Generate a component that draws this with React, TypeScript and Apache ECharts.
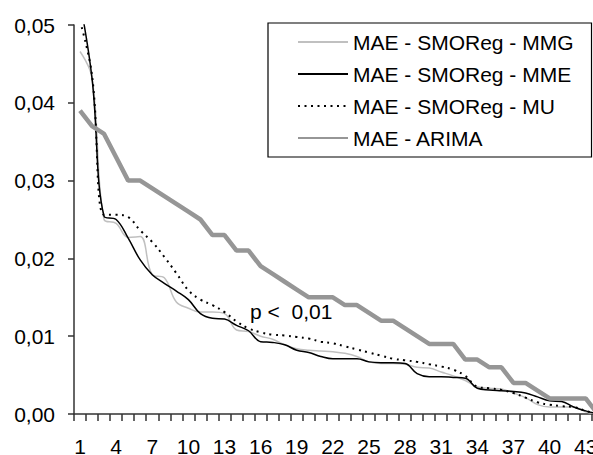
import React, { useEffect, useRef } from 'react';
import * as echarts from 'echarts';

const categories = [
  '1', '2', '3', '4', '5', '6', '7', '8', '9', '10', '11', '12', '13', '14', '15',
  '16', '17', '18', '19', '20', '21', '22', '23', '24', '25', '26', '27', '28', '29',
  '30', '31', '32', '33', '34', '35', '36', '37', '38', '39', '40', '41', '42', '43', '44',
];

const maeMMG = [
  0.0466, 0.0432, 0.025, 0.0245, 0.0227, 0.0228, 0.0179, 0.0175, 0.0144, 0.0136,
  0.0131, 0.0131, 0.0129, 0.0108, 0.0106, 0.01, 0.0096, 0.0089, 0.0084, 0.0082,
  0.0081, 0.008, 0.0078, 0.0074, 0.0067, 0.0065, 0.0065, 0.0064, 0.006, 0.0059,
  0.0054, 0.0049, 0.0043, 0.0035, 0.0033, 0.0032, 0.0027, 0.0021, 0.0012, 0.0009,
  0.0009, 0.0009, 0.0003, 0,
];

const maeMME = [
  0.053, 0.0431, 0.0254, 0.025, 0.0226, 0.0198, 0.0179, 0.0168, 0.0158, 0.0147,
  0.0129, 0.0123, 0.0122, 0.0114, 0.0107, 0.0093, 0.0092, 0.0089, 0.0082, 0.0079,
  0.0074, 0.0071, 0.0071, 0.0071, 0.0067, 0.0066, 0.0066, 0.0065, 0.0052, 0.0048,
  0.0048, 0.0047, 0.0046, 0.0033, 0.0031, 0.003, 0.0029, 0.0027, 0.0022, 0.0017,
  0.0016, 0.0009, 0.0004, 0,
];

const maeMU = [
  0.0505, 0.0435, 0.0256, 0.0256, 0.0253, 0.0236, 0.0221, 0.0202, 0.0181, 0.0159,
  0.0147, 0.014, 0.0131, 0.0119, 0.011, 0.0105, 0.0102, 0.0101, 0.0099, 0.0097,
  0.0093, 0.0091, 0.0087, 0.0083, 0.0079, 0.0075, 0.0071, 0.0069, 0.0067, 0.0064,
  0.0061, 0.0057, 0.0049, 0.0035, 0.0033, 0.0031, 0.0027, 0.0021, 0.0015, 0.0012,
  0.001, 0.0009, 0.0004, 0,
];

const maeARIMA = [
  0.039, 0.037, 0.036, 0.033, 0.03, 0.03, 0.029, 0.028, 0.027, 0.026,
  0.025, 0.023, 0.023, 0.021, 0.021, 0.019, 0.018, 0.017, 0.016, 0.015,
  0.015, 0.015, 0.014, 0.014, 0.013, 0.012, 0.012, 0.011, 0.01, 0.009,
  0.009, 0.009, 0.007, 0.007, 0.006, 0.006, 0.004, 0.004, 0.003, 0.002,
  0.002, 0.002, 0.002, 0,
];

const seriesNames = [
  'MAE - SMOReg - MMG',
  'MAE - SMOReg - MME',
  'MAE - SMOReg - MU',
  'MAE - ARIMA',
];

const annotation = 'p <  0,01';

export default function App() {
  const ref = useRef<HTMLDivElement>(null);

  useEffect(() => {
    if (!ref.current) return;
    const chart = echarts.init(ref.current, null, { renderer: 'svg' });
    const font = '"Liberation Sans", Arial, Helvetica, sans-serif';
    const axisColor = '#333';
    const catW = 12.04;

    chart.setOption({
      animation: false,
      backgroundColor: '#ffffff',
      textStyle: { fontFamily: font },
      grid: {
        left: 74,
        top: 25,
        height: 389,
        width: categories.length * catW,
        containLabel: false,
        outerBoundsMode: 'none',
      },
      xAxis: {
        type: 'category',
        data: categories,
        boundaryGap: true,
        axisLine: { show: true, lineStyle: { color: axisColor, width: 1.5 } },
        axisTick: { show: true, interval: 0, length: 7, lineStyle: { color: axisColor, width: 1.5 } },
        axisLabel: {
          interval: 2,
          margin: 24,
          fontSize: 21,
          lineHeight: 16,
          color: '#000',
          fontFamily: font,
          hideOverlap: false,
        },
        splitLine: { show: false },
      },
      yAxis: {
        type: 'value',
        min: 0,
        max: 0.05,
        interval: 0.01,
        axisLine: { show: true, lineStyle: { color: axisColor, width: 1.5 } },
        axisTick: { show: true, length: 6, lineStyle: { color: axisColor, width: 1.5 } },
        axisLabel: {
          margin: 19,
          fontSize: 21,
          color: '#000',
          fontFamily: font,
          showMinLabel: true,
          showMaxLabel: true,
          formatter: (v: number) => v.toFixed(2).replace('.', ','),
        },
        splitLine: { show: false },
      },
      legend: {
        orient: 'vertical',
        left: 268,
        top: 23,
        padding: [8.5, 18, 8.5, 29],
        itemWidth: 50,
        itemHeight: 14,
        itemGap: 11,
        borderColor: '#000',
        borderWidth: 1.2,
        backgroundColor: '#fff',
        selectedMode: false,
        itemStyle: { opacity: 0, borderWidth: 0 },
        textStyle: { fontSize: 21, color: '#000', fontFamily: font },
        data: seriesNames,
      },
      graphic: [
        {
          type: 'text',
          left: 250,
          top: 301,
          style: { text: annotation, font: `21px ${font}`, fill: '#000' },
        },
      ],
      series: [
        {
          name: seriesNames[0],
          type: 'line',
          data: maeMMG,
          smooth: 0.4,
          symbol: 'none',
          lineStyle: { color: '#c0c0c0', width: 1.5 },
          itemStyle: { color: '#c0c0c0' },
        },
        {
          name: seriesNames[1],
          type: 'line',
          data: maeMME,
          smooth: 0.4,
          symbol: 'none',
          lineStyle: { color: '#000', width: 1.5 },
          itemStyle: { color: '#000' },
        },
        {
          name: seriesNames[2],
          type: 'line',
          data: maeMU,
          smooth: 0.4,
          symbol: 'none',
          lineStyle: { color: '#000', width: 2, type: [2, 4.5] },
          itemStyle: { color: '#000' },
        },
        {
          name: seriesNames[3],
          type: 'line',
          data: maeARIMA,
          smooth: false,
          symbol: 'none',
          lineStyle: { color: '#969696', width: 4.5 },
          itemStyle: { color: '#969696' },
        },
      ],
    });

    return () => chart.dispose();
  }, []);

  return (
    <div
      ref={ref}
      style={{ position: 'absolute', left: 0, top: 0, width: 593, height: 455, background: '#fff' }}
    />
  );
}
